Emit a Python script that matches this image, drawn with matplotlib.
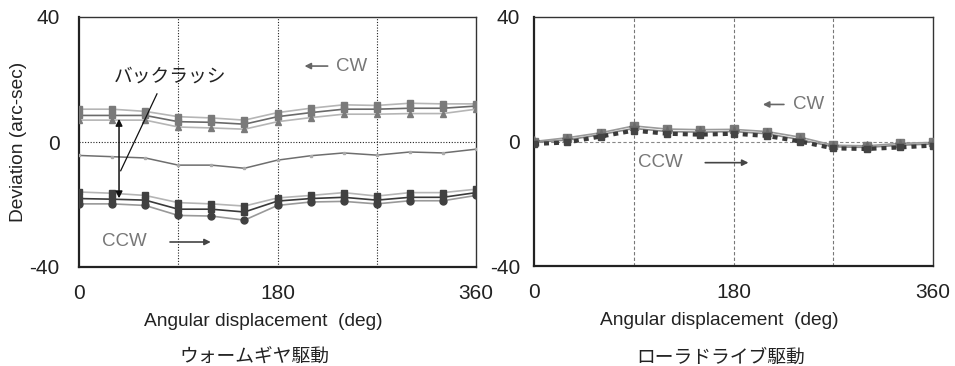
import matplotlib
matplotlib.use("Agg")
import matplotlib.pyplot as plt
import numpy as np

plt.rcParams['font.family'] = ['Liberation Sans', 'Noto Sans CJK JP', 'DejaVu Sans']

angles = [0, 30, 60, 90, 120, 150, 180, 210, 240, 270, 300, 330, 360]

# Worm gear drive (left)
worm_cw_top = [10.5, 10.5, 9.8, 8.1, 7.7, 7.0, 9.4, 10.8, 11.9, 11.7, 12.4, 12.2, 12.2]
worm_cw_mid = [8.5, 8.5, 8.5, 6.5, 6.3, 5.7, 8.1, 9.4, 10.5, 10.5, 10.8, 10.8, 11.5]
worm_cw_bot = [7.0, 7.0, 7.0, 4.8, 4.5, 4.1, 6.5, 7.8, 8.9, 8.9, 9.1, 9.1, 10.5]
worm_mean = [-4.3, -4.7, -5.1, -7.4, -7.4, -8.4, -5.8, -4.4, -3.5, -4.2, -3.2, -3.5, -2.3]
worm_ccw_top = [-16.0, -16.4, -17.1, -19.4, -19.8, -20.5, -17.9, -17.1, -16.2, -17.3, -16.2, -16.2, -15.1]
worm_ccw_mid = [-18.1, -18.3, -18.6, -21.5, -21.5, -22.4, -18.9, -18.1, -17.7, -18.6, -17.7, -17.7, -16.2]
worm_ccw_bot = [-19.8, -19.8, -20.3, -23.5, -23.7, -25.0, -20.3, -19.2, -19.0, -19.8, -18.8, -18.8, -17.1]

# Roller drive (right)
roller_s1 = [0.0, 1.2, 2.8, 5.0, 4.0, 3.8, 3.9, 3.2, 1.4, -1.2, -1.4, -0.6, -0.3]
roller_s2 = [-0.3, 0.5, 2.2, 4.2, 3.2, 3.0, 3.2, 2.5, 0.6, -1.7, -1.9, -1.2, -0.8]
roller_s3 = [-0.8, -0.3, 1.6, 3.5, 2.5, 2.2, 2.5, 1.8, 0.0, -2.2, -2.4, -1.9, -1.3]

xticks = [0, 180, 360]
yticks = [-40, 0, 40]
ytick_labels = ['-40', '0', '40']
xlabel = 'Angular displacement  (deg)'
ylabel = 'Deviation (arc-sec)'
titles = ['ウォームギヤ駆動', 'ローラドライブ駆動']

fig = plt.figure(figsize=(9.55, 3.66), dpi=100)
axL = fig.add_axes([79/955, 1-267/366, 397/955, 250/366])
axR = fig.add_axes([534/955, 1-266/366, 399/955, 249/366])

for ax in (axL, axR):
    ax.set_xlim(0, 360)
    ax.set_ylim(-40, 40)
    ax.set_xticks(xticks)
    ax.set_yticks(yticks)
    ax.set_yticklabels(ytick_labels)
    ax.tick_params(length=0, labelsize=15, colors='#222222')
    ax.tick_params(axis='x', pad=12)
    for s in ['left', 'bottom']:
        ax.spines[s].set_linewidth(1.6)
        ax.spines[s].set_color('#222222')
    for s in ['top', 'right']:
        ax.spines[s].set_linewidth(1.0)
        ax.spines[s].set_color('#333333')
    ax.set_xlabel(xlabel, fontsize=13.8, color='#222222')
    ax.xaxis.set_label_coords(0.465, -0.186)
axL.tick_params(axis='y', pad=14)
axR.tick_params(axis='y', pad=10)

# Left grid
for gx in [90, 180, 270]:
    axL.axvline(gx, color='#222222', lw=0.8, ls=(0, (1, 1.5)), zorder=1)
axL.axhline(0, color='#222222', lw=0.8, ls=(0, (1, 1.5)), zorder=1)

light = '#b5b5b5'
cwc = '#7a7a7a'
ccwc = '#404040'
axL.plot(angles, worm_cw_top, color=light, lw=1.2, marker='s', ms=5, mfc=cwc, mec=cwc, zorder=3)
axL.plot(angles, worm_cw_mid, color='#6a6a6a', lw=1.2, marker='s', ms=4, mfc=cwc, mec=cwc, zorder=3)
axL.plot(angles, worm_cw_bot, color=light, lw=1.2, marker='^', ms=5, mfc=cwc, mec=cwc, zorder=3)
axL.plot(angles, worm_mean, color='#6e6e6e', lw=1.1, marker='s', ms=1.5, mfc='#aaaaaa', mec='#aaaaaa', zorder=3)
axL.plot(angles, worm_ccw_top, color=light, lw=1.2, marker='s', ms=5, mfc=ccwc, mec=ccwc, zorder=3)
axL.plot(angles, worm_ccw_mid, color='#3a3a3a', lw=1.2, marker='s', ms=4.5, mfc=ccwc, mec=ccwc, zorder=3)
axL.plot(angles, worm_ccw_bot, color='#999999', lw=1.2, marker='o', ms=5, mfc=ccwc, mec=ccwc, zorder=3)

# Backlash annotation
axL.annotate('', xy=(36.3, 8.3), xytext=(36.3, -18.9),
             arrowprops=dict(arrowstyle='<|-|>', color='#111111', lw=1.1, mutation_scale=10), zorder=4)
axL.plot([37.8, 70.7], [-9.2, 15.4], color='#111111', lw=0.9, zorder=4)
axL.text(82.5, 20.8, 'バックラッシ', fontsize=13.5, ha='center', va='center', color='#222222')

# CW / CCW labels left
axL.annotate('', xy=(202, 24.3), xytext=(228, 24.3),
             arrowprops=dict(arrowstyle='-|>', color='#666666', lw=1.2, mutation_scale=9))
axL.text(233, 24.3, 'CW', fontsize=13.5, color='#777777', va='center', ha='left')
axL.text(21, -32, 'CCW', fontsize=13.5, color='#777777', va='center', ha='left')
axL.annotate('', xy=(122, -32), xytext=(80, -32),
             arrowprops=dict(arrowstyle='-|>', color='#444444', lw=1.2, mutation_scale=9))
axL.set_ylabel(ylabel, fontsize=13.8, labelpad=2, color='#222222')

# Right grid
for gx in [90, 180, 270]:
    axR.axvline(gx, color='#777777', lw=0.8, ls=(0, (3, 2)), zorder=1)
axR.axhline(0, color='#888888', lw=0.8, ls=(0, (3, 2)), zorder=1)

axR.plot(angles, roller_s1, color='#9a9a9a', lw=1.2, marker='s', ms=5.5, mfc='#7a7a7a', mec='#7a7a7a', zorder=3)
axR.plot(angles, roller_s2, color='#8a8a8a', lw=1.2, marker='*', ms=8, mfc='#6a6a6a', mec='#6a6a6a', zorder=3)
axR.plot(angles, roller_s3, color='#3a3a3a', lw=3, ls=(0, (1.2, 1.2)), marker='s', ms=4, mfc='#444444', mec='#444444', zorder=4)

axR.annotate('', xy=(204, 11.9), xytext=(228, 11.9),
             arrowprops=dict(arrowstyle='-|>', color='#666666', lw=1.2, mutation_scale=9))
axR.text(234, 11.9, 'CW', fontsize=13.5, color='#777777', va='center', ha='left')
axR.text(94, -6.8, 'CCW', fontsize=13.5, color='#777777', va='center', ha='left')
axR.annotate('', xy=(196, -6.8), xytext=(152, -6.8),
             arrowprops=dict(arrowstyle='-|>', color='#444444', lw=1.2, mutation_scale=9))

fig.text(254/955, 1-358/366, titles[0], fontsize=13.5, ha='center', va='center', color='#222222')
fig.text(721/955, 1-358/366, titles[1], fontsize=13.5, ha='center', va='center', color='#222222')

fig.savefig('out.png', dpi=100)
